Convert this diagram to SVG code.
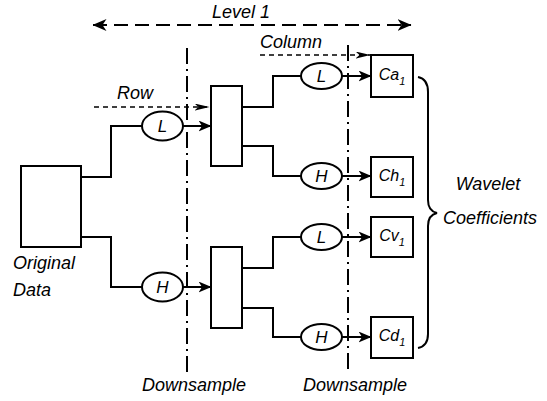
<svg xmlns="http://www.w3.org/2000/svg" width="547" height="401" viewBox="0 0 547 401">
<style>
text{font-family:"Liberation Sans",Arial,sans-serif;font-style:italic;font-size:18px;fill:#000}
.lbl{font-size:16px;text-anchor:middle}
.el{font-size:17px;text-anchor:middle}
.sub{font-size:11px}
.box{fill:#fff;stroke:#000;stroke-width:2}
.ell{fill:#fff;stroke:#000;stroke-width:2}
.wire{fill:none;stroke:#000;stroke-width:2}
.arrow{fill:none;stroke:#000;stroke-width:2;marker-end:url(#ah)}
.dash{fill:none;stroke:#000;stroke-width:1.3;stroke-dasharray:5 4;marker-end:url(#ahs)}
.dd{fill:none;stroke:#000;stroke-width:2;stroke-dasharray:16 5 2 5}
</style>
<defs>
<marker id="ah" viewBox="0 0 13 11" refX="12.5" refY="5.5" markerWidth="13" markerHeight="11" markerUnits="userSpaceOnUse" orient="auto">
<path d="M0,0 L13,5.5 L0,11 L3.5,5.5 z" fill="#000"/>
</marker>
<marker id="ahl" viewBox="0 0 14 12" refX="13.5" refY="6" markerWidth="14" markerHeight="12" markerUnits="userSpaceOnUse" orient="auto-start-reverse">
<path d="M0,0 L14,6 L0,12 L4,6 z" fill="#000"/>
</marker>
<marker id="ahs" viewBox="0 0 15 7" refX="14.5" refY="3.5" markerWidth="15" markerHeight="7" markerUnits="userSpaceOnUse" orient="auto">
<path d="M0,0 L15,3.5 L0,7 L4,3.5 z" fill="#000"/>
</marker>
</defs>

<g id="level1">
<line x1="93" y1="25" x2="411" y2="25" stroke="#000" stroke-width="2" stroke-dasharray="14 7" marker-start="url(#ahl)" marker-end="url(#ahl)"/>
<text x="212" y="18">Level 1</text>
</g>

<g id="downsample-lines">
<line class="dd" x1="187" y1="48" x2="187" y2="376"/>
<line class="dd" x1="348" y1="45" x2="348" y2="374"/>
<text x="142" y="391">Downsample</text>
<text x="303" y="391">Downsample</text>
</g>

<g id="connectors">
<path class="wire" d="M81,177 H111 V126 H142"/>
<path class="wire" d="M81,237 H111 V287 H142"/>
<path class="arrow" d="M183,126 H211"/>
<path class="arrow" d="M183,287 H211"/>
<path class="wire" d="M242,107 H273 V76 H301"/>
<path class="wire" d="M242,146 H273 V176 H301"/>
<path class="wire" d="M242,268 H273 V237 H301"/>
<path class="wire" d="M242,308 H273 V337 H301"/>
<path class="arrow" d="M342,76 H371"/>
<path class="arrow" d="M342,176 H371"/>
<path class="arrow" d="M342,237 H371"/>
<path class="arrow" d="M342,337 H371"/>
<path class="dash" d="M94,107 H209"/>
<path class="dash" d="M260,55 H370"/>
</g>

<g id="row-label"><text x="117" y="99">Row</text></g>
<g id="column-label"><text x="260" y="48">Column</text></g>

<g id="original-data">
<rect class="box" x="21" y="166" width="60" height="81"/>
<text x="13" y="269">Original</text>
<text x="13" y="296">Data</text>
</g>

<g id="row-L"><ellipse class="ell" cx="162.5" cy="126" rx="20.5" ry="14.5"/><text class="el" x="162.5" y="132">L</text></g>
<g id="row-H"><ellipse class="ell" cx="162.5" cy="287" rx="20.5" ry="14.5"/><text class="el" x="162.5" y="293">H</text></g>

<g id="split-top"><rect class="box" x="211" y="86" width="31" height="80"/></g>
<g id="split-bottom"><rect class="box" x="211" y="247" width="31" height="81"/></g>

<g id="col-L1"><ellipse class="ell" cx="321.5" cy="76" rx="20.5" ry="13"/><text class="el" x="321.5" y="82">L</text></g>
<g id="col-H1"><ellipse class="ell" cx="321.5" cy="176" rx="20.5" ry="13"/><text class="el" x="321.5" y="182">H</text></g>
<g id="col-L2"><ellipse class="ell" cx="321.5" cy="237" rx="20.5" ry="13"/><text class="el" x="321.5" y="243">L</text></g>
<g id="col-H2"><ellipse class="ell" cx="321.5" cy="337" rx="20.5" ry="13"/><text class="el" x="321.5" y="343">H</text></g>

<g id="Ca1"><rect class="box" x="371" y="55" width="42" height="42"/><text class="lbl" x="392" y="80">Ca<tspan class="sub" dy="5">1</tspan></text></g>
<g id="Ch1"><rect class="box" x="371" y="157" width="42" height="40"/><text class="lbl" x="392" y="181">Ch<tspan class="sub" dy="5">1</tspan></text></g>
<g id="Cv1"><rect class="box" x="371" y="217" width="42" height="40"/><text class="lbl" x="392" y="241">Cv<tspan class="sub" dy="5">1</tspan></text></g>
<g id="Cd1"><rect class="box" x="371" y="317" width="42" height="41"/><text class="lbl" x="392" y="341">Cd<tspan class="sub" dy="5">1</tspan></text></g>

<g id="wavelet-coefficients">
<path class="wire" d="M418,77 Q428,79 428,92 V200 Q428,211 437,213 Q428,215 428,226 V334 Q428,346 418,348"/>
<text x="488" y="190" text-anchor="middle">Wavelet</text>
<text x="490" y="224" text-anchor="middle">Coefficients</text>
</g>
</svg>
